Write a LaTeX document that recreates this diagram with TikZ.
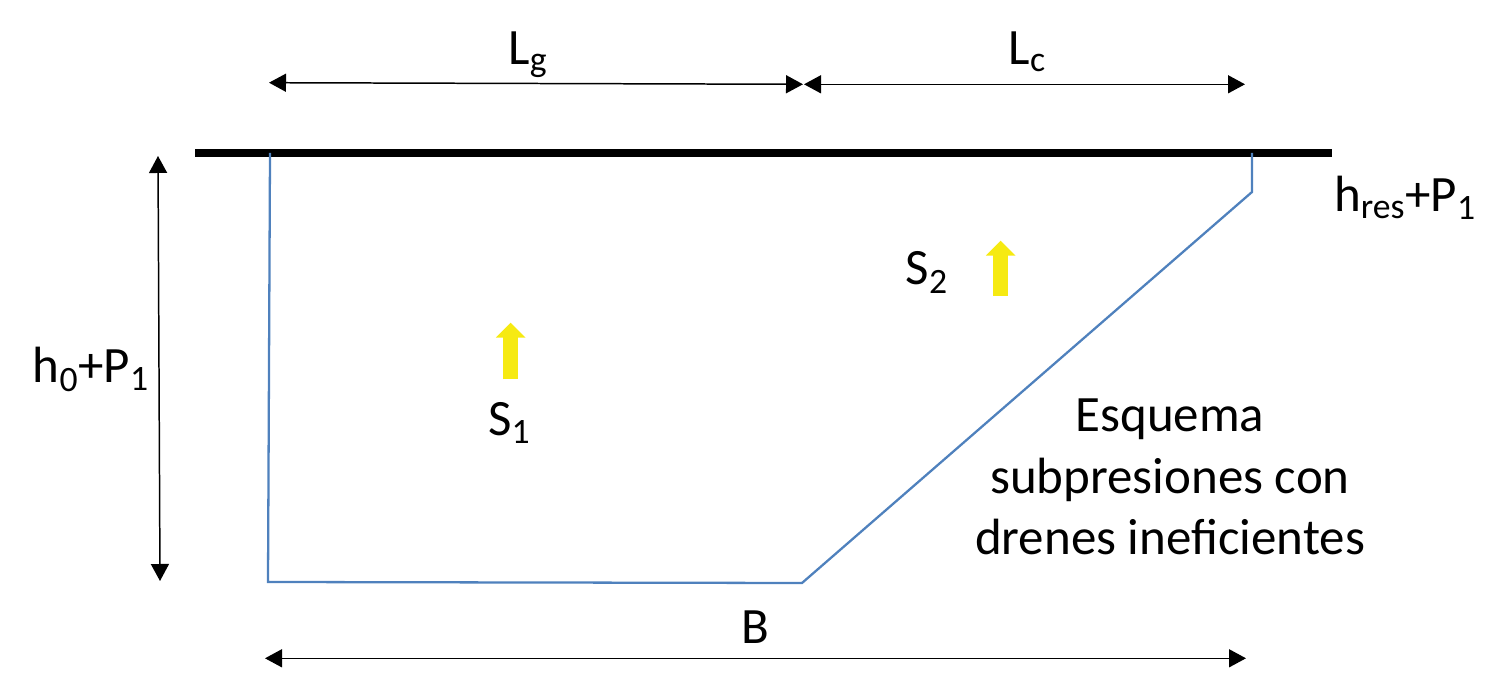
\documentclass[tikz,border=0pt]{standalone}
\usepackage{fontspec}
\setmainfont{Carlito}
\usetikzlibrary{arrows.meta}
\definecolor{lineblue}{RGB}{79,129,189}
\definecolor{loadyellow}{RGB}{246,234,18}

\begin{document}
\begin{tikzpicture}[
           >= {Triangle[length=0.34cm,width=0.36cm]},
         dim/.style = {draw, line width=0.85pt, <->},
        load/.style = {draw=loadyellow, line width=0.3cm,
                       -{Triangle[length=0.3cm,width=0.58cm]}},
every node/.style = {inner sep=0pt, anchor=base,
                     font=\fontsize{29}{35.2}\selectfont}
                        ]
\useasboundingbox (0,0) rectangle (29.94,13.8);
%
% ground line
\coordinate (TopL) at (3.9,10.74);
\coordinate (TopR) at (26.64,10.74);
\draw[line width=0.16cm] (TopL) -- (TopR);
%
% uplift diagram
\coordinate (A) at (5.40,10.74);
\coordinate (Bt) at (5.36,2.16);
\coordinate (C) at (16.04,2.14);
\coordinate (D) at (25.04,9.96);
\coordinate (E) at (25.04,10.74);
\draw[lineblue, line width=1.3pt] (A) -- (Bt) -- (C) -- (D) -- (E);
%
% dimensions
\coordinate (LgL) at (5.38,12.146);
\coordinate (LgR) at (16.06,12.114);
\coordinate (LcL) at (16.08,12.114);
\coordinate (LcR) at (24.90,12.114);
\coordinate (HT) at (3.16,10.68);
\coordinate (HB) at (3.20,2.18);
\coordinate (BL) at (5.30,0.634);
\coordinate (BR) at (24.92,0.634);
\path[dim] (LgL) -- (LgR);
\path[dim] (LcL) -- (LcR);
\path[dim] (HT) -- (HB);
\path[dim] (BL) -- (BR);
%
\node (Lg) at (10.56,12.5) {L\textsubscript{g}};
\node (Lc) at (20.55,12.5) {L\textsubscript{c}};
\node (h0) at (1.82,6.14) {h\textsubscript{0}+P\textsubscript{1}};
\node (hres) at (28.1,9.56) {h\textsubscript{res}+P\textsubscript{1}};
\node (B) at (15.1,0.934) {B};
%
% uplift forces
\coordinate (S1a) at (10.214,6.214);
\coordinate (S1b) at (10.214,7.346);
\coordinate (S2a) at (20.014,7.88);
\coordinate (S2b) at (20.014,8.986);
\path[load] (S1a) -- (S1b);
\path[load] (S2a) -- (S2b);
\node (S1) at (10.19,5.08) {S\textsubscript{1}};
\node (S2) at (18.54,8.1) {S\textsubscript{2}};
%
\node (Txt) [align=center] at (23.4,2.70)
    {Esquema\\ subpresiones con\\ drenes ineficientes};
\end{tikzpicture}
\end{document}
